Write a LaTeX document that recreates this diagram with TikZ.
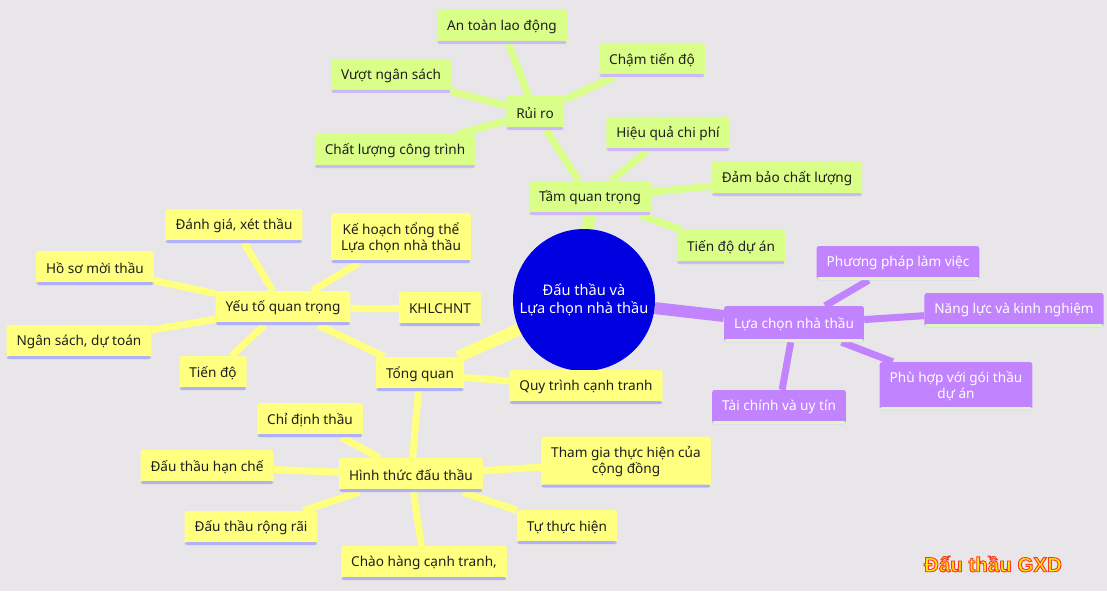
\documentclass[tikz,border=0pt]{standalone}
\usepackage{fontspec}
\setmainfont{Noto Sans}
\newfontfamily\markfont{Liberation Sans}
\usetikzlibrary{backgrounds}

\definecolor{bgcol}{HTML}{E8E6E8}
\definecolor{greencol}{HTML}{DAFF88}
\definecolor{yellowcol}{HTML}{FFFF80}
\definecolor{purplecol}{HTML}{C283FF}
\definecolor{rootcol}{HTML}{0000E0}
\definecolor{lavcol}{HTML}{CDB8F8}
\definecolor{bluelav}{HTML}{B0B0FF}
\definecolor{palegreen}{HTML}{DDF8C8}
\definecolor{inkcol}{HTML}{1E1E1E}
\definecolor{markfill}{HTML}{FFE800}

% outlined text: fill and stroke in one go
\newcommand{\outlined}[1]{\special{pdf:literal direct 2 Tr 0.9 w 1 0.2 0.15 RG}#1\special{pdf:literal direct 0 Tr}}

\tikzset{
  topic/.style={rectangle, rounded corners=2.5pt, inner xsep=10pt, minimum height=34pt,
    align=center, font=\fontsize{13.6}{16}\selectfont,
    path picture={\fill[#1] (path picture bounding box.south west) rectangle
      ([yshift=3pt]path picture bounding box.south east);}},
  greenbox/.style={topic=lavcol, fill=greencol, text=inkcol},
  yellowbox/.style={topic=bluelav, fill=yellowcol, text=inkcol},
  purplebox/.style={topic=palegreen, fill=purplecol, text=white},
  trunk/.style={line width=12pt},
  twig/.style={line width=7pt}
}

\begin{document}
\begin{tikzpicture}[x=1pt,y=-1pt]
  \useasboundingbox (0,0) rectangle (1107,591);

  % centre
  \node[circle, fill=rootcol, text=white, minimum size=142pt,
    inner sep=0pt, align=center, font=\fontsize{14.6}{18}\selectfont] (root) at (584,300)
    {Đấu thầu và\\Lựa chọn nhà thầu};

  % green branch
  \node[greenbox] (tam) at (590,198) {Tầm quan trọng};
  \node[greenbox] (rui) at (535,113) {Rủi ro};
  \node[greenbox] (antoan) at (502,27) {An toàn lao động};
  \node[greenbox] (cham) at (652,60) {Chậm tiến độ};
  \node[greenbox] (vuot) at (391,76) {Vượt ngân sách};
  \node[greenbox] (chatluong) at (395,151) {Chất lượng công trình};
  \node[greenbox] (hieuqua) at (668,134) {Hiệu quả chi phí};
  \node[greenbox] (dambao) at (787,179) {Đảm bảo chất lượng};
  \node[greenbox] (tiendoda) at (731,247) {Tiến độ dự án};

  % yellow branch
  \node[yellowbox] (tong) at (420,374) {Tổng quan};
  \node[yellowbox] (yeuto) at (283,308) {Yếu tố quan trọng};
  \node[yellowbox] (danhgia) at (234,226) {Đánh giá, xét thầu};
  \node[yellowbox, minimum height=50pt] (kehoach) at (401,238) {Kế hoạch tổng thể\\Lựa chọn nhà thầu};
  \node[yellowbox] (hoso) at (95,268) {Hồ sơ mời thầu};
  \node[yellowbox] (khl) at (440,309) {KHLCHNT};
  \node[yellowbox] (ngansach) at (79,342) {Ngân sách, dự toán};
  \node[yellowbox] (tiendo) at (213,373) {Tiến độ};
  \node[yellowbox] (quytrinh) at (586,387) {Quy trình cạnh tranh};
  \node[yellowbox] (hinhthuc) at (411,475) {Hình thức đấu thầu};
  \node[yellowbox] (chidinh) at (310,420) {Chỉ định thầu};
  \node[yellowbox] (hanche) at (207,467) {Đấu thầu hạn chế};
  \node[yellowbox, minimum height=51pt] (thamgia) at (626,462) {Tham gia thực hiện của\\cộng đồng};
  \node[yellowbox] (rongrai) at (251,528) {Đấu thầu rộng rãi};
  \node[yellowbox] (tuthuc) at (567,527) {Tự thực hiện};
  \node[yellowbox] (chaohang) at (424,563) {Chào hàng cạnh tranh,};

  % purple branch
  \node[purplebox, minimum height=36pt] (luachon) at (794,324) {Lựa chọn nhà thầu};
  \node[purplebox] (phuongphap) at (898,263) {Phương pháp làm việc};
  \node[purplebox] (nangluc) at (1014,310) {Năng lực và kinh nghiệm};
  \node[purplebox, minimum height=48pt] (phuhop) at (956,386) {Phù hợp với gói thầu\\dự án};
  \node[purplebox] (taichinh) at (779,407) {Tài chính và uy tín};

  \node[font=\markfont\bfseries\fontsize{20.5}{22}\selectfont, text=markfill]
    (mark) at (993,564) {\outlined{Đấu thầu GXD}};

  \begin{scope}[on background layer, line cap=round]
    \fill[bgcol] (0,0) rectangle (1107,591);

    \draw[trunk, greencol] (root) -- (tam);
    \draw[trunk, yellowcol] (root) -- (tong);
    \draw[trunk, purplecol] (root) -- (luachon);

    \draw[twig, greencol] (tam) -- (rui);
    \draw[twig, greencol] (tam) -- (hieuqua);
    \draw[twig, greencol] (tam) -- (dambao);
    \draw[twig, greencol] (tam) -- (tiendoda);
    \draw[twig, greencol] (rui) -- (antoan);
    \draw[twig, greencol] (rui) -- (cham);
    \draw[twig, greencol] (rui) -- (vuot);
    \draw[twig, greencol] (rui) -- (chatluong);

    \draw[twig, yellowcol] (tong) -- (yeuto);
    \draw[twig, yellowcol] (tong) -- (quytrinh);
    \draw[twig, yellowcol] (tong) -- (hinhthuc);
    \draw[twig, yellowcol] (yeuto) -- (danhgia);
    \draw[twig, yellowcol] (yeuto) -- (kehoach);
    \draw[twig, yellowcol] (yeuto) -- (hoso);
    \draw[twig, yellowcol] (yeuto) -- (khl);
    \draw[twig, yellowcol] (yeuto) -- (ngansach);
    \draw[twig, yellowcol] (yeuto) -- (tiendo);
    \draw[twig, yellowcol] (hinhthuc) -- (chidinh);
    \draw[twig, yellowcol] (hinhthuc) -- (hanche);
    \draw[twig, yellowcol] (hinhthuc) -- (thamgia);
    \draw[twig, yellowcol] (hinhthuc) -- (rongrai);
    \draw[twig, yellowcol] (hinhthuc) -- (tuthuc);
    \draw[twig, yellowcol] (hinhthuc) -- (chaohang);

    \draw[twig, purplecol] (luachon) -- (phuongphap);
    \draw[twig, purplecol] (luachon) -- (nangluc);
    \draw[twig, purplecol] (luachon) -- (phuhop);
    \draw[twig, purplecol] (luachon) -- (taichinh);
  \end{scope}
\end{tikzpicture}
\end{document}
